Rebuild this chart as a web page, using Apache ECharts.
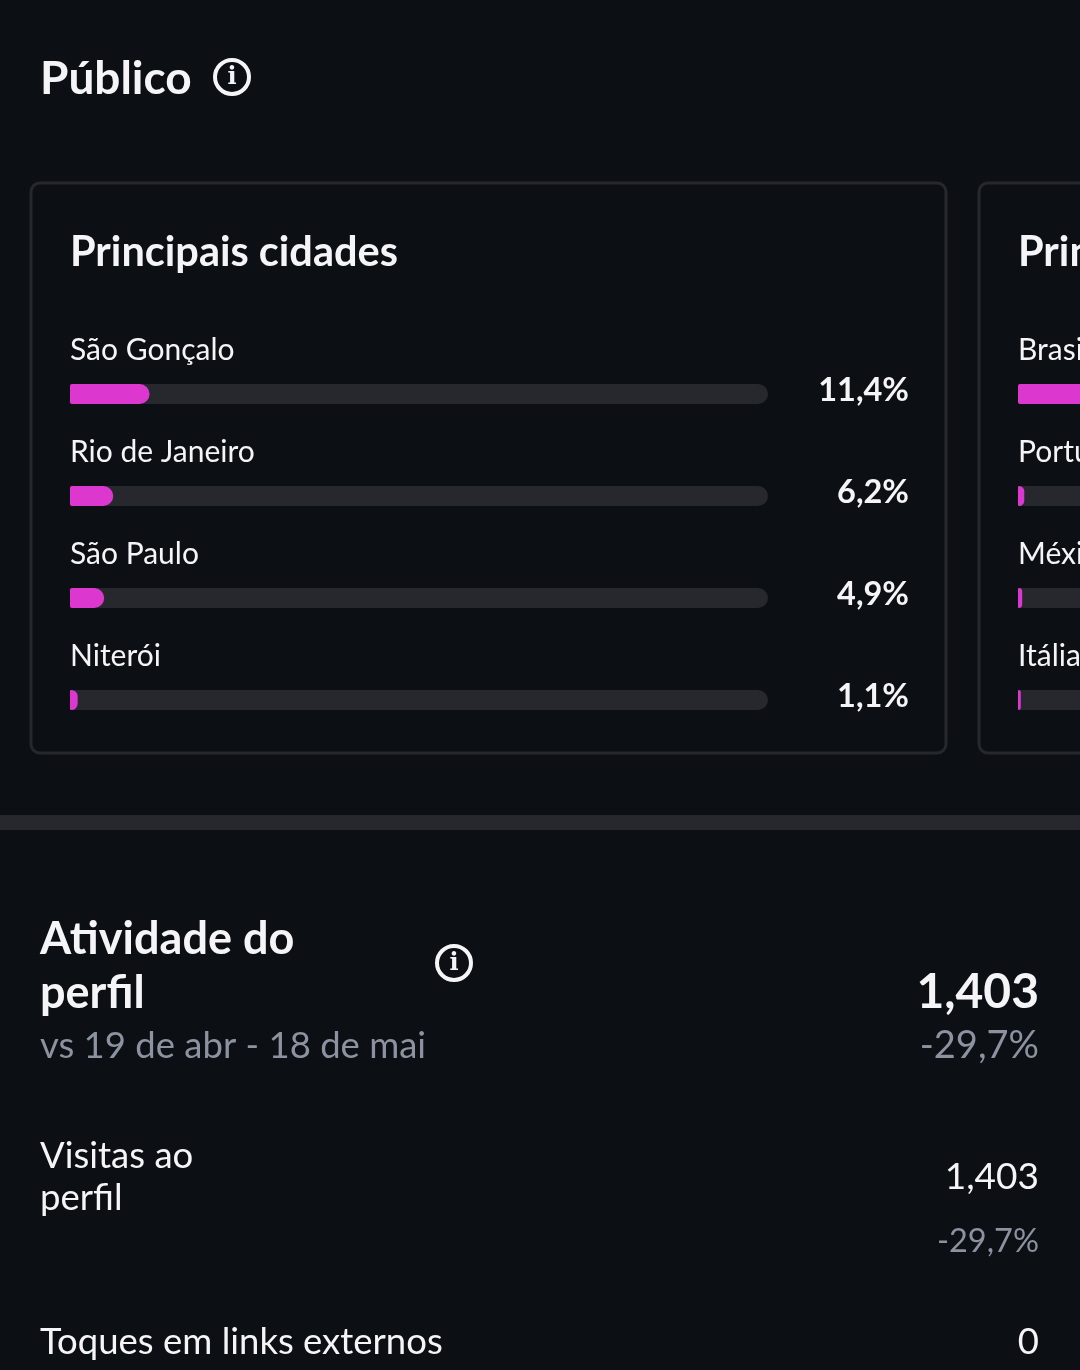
<!DOCTYPE html>
<html lang="pt">
  <head>
    <meta charset="UTF-8" />
    <title>Público</title>
    <style>
      html, body { margin: 0; padding: 0; background: #0c0f14; }
      #main { width: 1080px; height: 1370px; }
    </style>
  </head>
  <body>
    <div id="main"></div>
    <script src="https://cdn.jsdelivr.net/npm/echarts@6/dist/echarts.min.js"></script>
    <script>
      var cities = ["São Gonçalo", "Rio de Janeiro", "São Paulo", "Niterói"];
      var cityValues = [11.4, 6.2, 4.9, 1.1];
      var cityLabels = ["11,4%", "6,2%", "4,9%", "1,1%"];
      // the second card runs off the page, the Brasil value is a guess
      var countries = ["Brasil", "Portugal", "México", "Itália"];
      var countryValues = [85, 0.9, 0.6, 0.4];
      var countryLabels = ["85%", "0,9%", "0,6%", "0,4%"];

      var bg = "#0c0f14";
      var track = "#26282d";
      var pink = "#dc38d0";
      var white = "#f5f5f7";
      var grey = "#8c92a0";
      var font = "Lato";

      function text(x, y, str, size, weight, color, align) {
        return {
          type: "text",
          x: x,
          y: y,
          style: {
            text: str,
            fontSize: size,
            fontWeight: weight,
            fontFamily: font,
            fill: color,
            align: align || "left",
            verticalAlign: "middle",
          },
        };
      }

      function infoIcon(x, y) {
        return [
          {
            type: "circle",
            shape: { cx: x, cy: y, r: 17 },
            style: { fill: "none", stroke: white, lineWidth: 4 },
          },
          {
            type: "text",
            x: x,
            y: y + 1,
            style: {
              text: "i",
              fontSize: 24,
              fontWeight: "bold",
              fontFamily: "DejaVu Serif",
              fill: white,
              align: "center",
              verticalAlign: "middle",
            },
          },
        ];
      }

      function card(x, w) {
        return {
          type: "rect",
          shape: { x: x, y: 183, width: w, height: 570, r: 9 },
          style: { fill: "none", stroke: track, lineWidth: 3 },
        };
      }

      function barSeries(axisIndex, values, names) {
        return {
          type: "bar",
          xAxisIndex: axisIndex,
          yAxisIndex: axisIndex * 2,
          barWidth: 20,
          silent: true,
          data: values,
          showBackground: true,
          backgroundStyle: { color: track, borderRadius: [2, 10, 10, 2] },
          itemStyle: { color: pink, borderRadius: [2, 10, 10, 2] },
          label: {
            show: true,
            position: [0, -49],
            color: white,
            fontFamily: font,
            fontSize: 30,
            formatter: function (p) {
              return names[p.dataIndex];
            },
          },
        };
      }

      function valueAxis(gridIndex) {
        return {
          type: "value",
          gridIndex: gridIndex,
          min: 0,
          max: 100,
          show: false,
        };
      }

      function nameAxis(gridIndex, names) {
        return {
          type: "category",
          gridIndex: gridIndex,
          data: names,
          inverse: true,
          show: false,
        };
      }

      function labelAxis(gridIndex, labels) {
        return {
          type: "category",
          gridIndex: gridIndex,
          data: labels,
          inverse: true,
          position: "right",
          axisLine: { show: false },
          axisTick: { show: false },
          axisLabel: {
            margin: 141,
            align: "right",
            verticalAlign: "bottom",
            lineHeight: 6,
            color: white,
            fontFamily: font,
            fontWeight: 700,
            fontSize: 32.5,
          },
        };
      }

      var myChart = echarts.init(document.getElementById("main"));
      myChart.setOption({
        backgroundColor: bg,
        animation: false,
        grid: [
          { left: 70, top: 343, width: 698, height: 408, outerBoundsMode: "none" },
          { left: 1018, top: 343, width: 698, height: 408, outerBoundsMode: "none" },
        ],
        xAxis: [valueAxis(0), valueAxis(1)],
        yAxis: [
          nameAxis(0, cities),
          labelAxis(0, cityLabels),
          nameAxis(1, countries),
          labelAxis(1, countryLabels),
        ],
        series: [
          barSeries(0, cityValues, cities),
          barSeries(1, countryValues, countries),
        ],
        graphic: [
          text(40, 79, "Público", 46, 700, white),
          ...infoIcon(232, 77),
          card(31, 915),
          card(979, 915),
          text(70, 253, "Principais cidades", 41.5, 700, white),
          text(1018, 253, "Principais países", 41.5, 700, white),
          {
            type: "rect",
            shape: { x: 0, y: 815, width: 1080, height: 15 },
            style: { fill: track },
          },
          text(40, 939, "Atividade do", 45, 700, white),
          text(40, 993, "perfil", 45, 700, white),
          ...infoIcon(454, 963),
          text(40, 1046, "vs 19 de abr - 18 de mai", 36.5, 400, grey),
          text(1039, 993, "1,403", 48, 700, white, "right"),
          text(1039, 1046, "-29,7%", 38, 400, grey, "right"),
          text(40, 1156, "Visitas ao", 36.5, 400, white),
          text(40, 1198, "perfil", 36.5, 400, white),
          text(1039, 1177, "1,403", 37, 400, white, "right"),
          text(1039, 1242, "-29,7%", 32.5, 400, grey, "right"),
          text(40, 1342, "Toques em links externos", 36.5, 400, white),
          text(1039, 1342, "0", 36.5, 400, white, "right"),
        ],
      });
    </script>
  </body>
</html>
